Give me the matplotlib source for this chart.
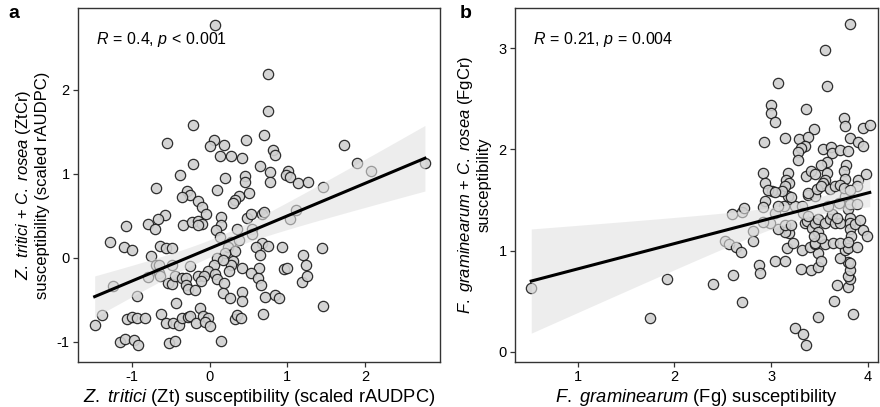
import numpy as np
import matplotlib
matplotlib.use("Agg")
import matplotlib.pyplot as plt

plt.rcParams['font.family'] = ['Liberation Sans', 'DejaVu Sans']
plt.rcParams['mathtext.fontset'] = 'custom'
plt.rcParams['mathtext.rm'] = 'Liberation Sans'
plt.rcParams['mathtext.it'] = 'Liberation Sans:italic'
plt.rcParams['axes.unicode_minus'] = False

# panel a: Zt susceptibility vs ZtCr susceptibility (scaled rAUDPC)
zt_x = [0.07, 0.75, 0.75, -0.21, -0.55, 0.06, 0.00, 0.18, 0.47, 0.70,
        0.81, 0.84, 0.13, 0.27, 0.42, -0.22, 0.65, 0.77, 1.01, 0.98,
        1.03, -0.38, 0.20, 0.45, 1.73, 1.89, 2.08, 2.77, 0.46, 0.77,
        1.14, 1.27, 1.46, -0.69, -0.29, -0.25, -0.35, 0.09, 0.38, 0.50,
        0.33, 0.30, -0.15, -0.10, -0.05, -0.58, -0.66, -0.79, -0.70, -1.08,
        -0.34, -0.23, -0.15, -0.10, -0.15, 0.15, 0.15, 0.48, 0.53, 0.67,
        0.70, 1.11, 1.03, 0.08, 0.35, 0.55, 0.55, 0.13, -1.28, -1.10,
        -1.00, -0.64, -0.56, -0.48, -0.76, 0.28, 0.38, 0.24, 0.33, 0.20,
        0.67, 0.75, 0.59, 0.65, 0.93, 1.20, 1.44, 0.09, 0.05, 0.30,
        0.27, -0.69, -0.65, -0.49, -0.25, 0.42, 0.63, 0.96, 0.99, 1.24,
        0.25, -0.02, 0.07, 0.10, 0.53, 0.62, 0.66, -0.80, -0.65, -0.64,
        -0.53, -0.49, -0.45, -0.36, -0.30, -0.31, -0.28, -0.19, -0.15, -0.07,
        -0.11, 0.18, 1.19, 1.25, -1.24, -1.38, -1.48, -0.93, -0.43, 0.17,
        0.26, 0.42, 0.42, 0.71, 0.84, 0.89, 1.46, -1.07, -1.00, -0.94,
        -0.83, -0.63, -0.56, -0.47, -0.39, -0.36, -0.28, -0.25, -0.17, -0.12,
        -0.09, -0.02, -0.06, 0.00, 0.33, 0.35, 0.40, 0.68, -1.15, -1.09,
        -0.98, -0.92, -0.52, -0.45, 0.15, 0.17]
ztcr_y = [2.77, 2.19, 1.75, 1.58, 1.37, 1.41, 1.33, 1.35, 1.40, 1.46,
          1.28, 1.23, 1.21, 1.21, 1.19, 1.12, 1.10, 1.02, 1.03, 0.99,
          0.96, 0.99, 0.95, 0.98, 1.34, 1.13, 1.03, 1.13, 0.90, 0.91,
          0.89, 0.91, 0.85, 0.83, 0.80, 0.75, 0.72, 0.81, 0.74, 0.77,
          0.69, 0.66, 0.68, 0.61, 0.52, 0.51, 0.47, 0.40, 0.35, 0.38,
          0.39, 0.43, 0.44, 0.41, 0.39, 0.49, 0.39, 0.48, 0.52, 0.52,
          0.55, 0.57, 0.46, 0.33, 0.35, 0.35, 0.29, 0.25, 0.19, 0.13,
          0.09, 0.14, 0.12, 0.12, 0.02, 0.19, 0.21, 0.13, 0.08, 0.06,
          0.18, 0.14, 0.13, 0.04, 0.13, 0.04, 0.12, 0.00, -0.08, -0.04,
          -0.08, -0.08, -0.08, -0.08, -0.09, -0.12, -0.12, -0.13, -0.12, -0.08,
          -0.16, -0.16, -0.19, -0.25, -0.18, -0.24, -0.32, -0.23, -0.18, -0.22,
          -0.30, -0.31, -0.21, -0.24, -0.24, -0.32, -0.37, -0.38, -0.22, -0.21,
          -0.27, -0.30, -0.28, -0.21, -0.33, -0.68, -0.80, -0.45, -0.54, -0.42,
          -0.48, -0.40, -0.51, -0.47, -0.44, -0.48, -0.57, -0.73, -0.70, -0.71,
          -0.72, -0.67, -0.77, -0.77, -0.80, -0.72, -0.70, -0.69, -0.77, -0.60,
          -0.69, -0.72, -0.76, -0.81, -0.73, -0.68, -0.71, -0.67, -1.00, -0.96,
          -0.98, -1.03, -1.01, -0.99, -0.99, -0.02]

# panel b: Fg susceptibility vs FgCr susceptibility
fg_x = [0.52, 1.92, 1.75, 2.40, 2.61, 2.70, 2.52, 2.56, 2.64, 2.69,
        2.60, 2.70, 2.72, 2.81, 2.81, 2.88, 2.89, 3.04, 3.14, 3.31,
        3.41, 3.49, 3.25, 3.33, 3.36, 3.48, 3.65, 3.85, 3.68, 3.79,
        3.82, 3.80, 3.82, 3.79, 3.82, 3.71, 3.76, 3.80, 3.89, 3.49,
        3.52, 3.32, 3.40, 3.45, 3.16, 3.23, 3.18, 3.14, 3.07, 3.14,
        3.21, 2.99, 2.94, 2.92, 3.01, 3.04, 3.13, 3.25, 3.17, 3.21,
        3.35, 3.37, 3.42, 3.45, 3.32, 3.33, 3.38, 3.38, 3.45, 3.49,
        3.56, 3.61, 3.66, 3.71, 3.45, 3.56, 3.64, 3.71, 3.49, 3.52,
        3.44, 3.63, 3.68, 3.59, 3.80, 3.82, 3.82, 3.82, 3.83, 3.80,
        3.87, 3.92, 3.95, 3.99, 3.76, 3.82, 3.89, 3.70, 3.07, 2.92,
        3.82, 3.56, 3.07, 3.58, 3.00, 3.00, 3.04, 3.36, 3.75, 3.76,
        3.95, 4.02, 3.44, 2.93, 3.14, 3.29, 3.38, 3.35, 3.31, 3.28,
        3.28, 3.82, 3.90, 3.95, 3.54, 3.62, 3.63, 3.71, 3.79, 3.58,
        3.52, 3.77, 2.92, 2.94, 3.17, 3.15, 3.18, 3.36, 3.41, 3.45,
        3.58, 3.56, 3.54, 3.75, 3.76, 3.90, 3.98, 3.89, 3.14, 3.11,
        2.97, 3.04, 3.38, 3.47, 3.52, 3.61, 3.66, 3.71, 3.75, 3.82]
fgcr_y = [0.63, 0.72, 0.34, 0.67, 0.76, 0.49, 1.10, 1.07, 1.04, 0.99,
          1.36, 1.38, 1.42, 1.19, 1.10, 0.86, 0.78, 0.90, 0.90, 0.82,
          0.81, 0.84, 0.24, 0.18, 0.07, 0.35, 0.50, 0.37, 0.66, 0.64,
          0.72, 0.75, 0.81, 0.89, 0.88, 0.93, 1.01, 1.03, 1.04, 0.98,
          0.90, 1.01, 1.04, 1.07, 1.03, 1.08, 1.17, 1.18, 1.21, 1.25,
          1.25, 1.27, 1.49, 1.43, 1.59, 1.37, 1.44, 1.44, 1.54, 1.53,
          1.27, 1.29, 1.22, 1.27, 1.44, 1.37, 1.34, 1.55, 1.54, 1.31,
          1.27, 1.31, 1.27, 1.27, 1.08, 1.07, 1.08, 1.08, 1.18, 1.13,
          1.14, 1.36, 1.32, 1.44, 1.41, 1.32, 1.27, 1.21, 1.14, 1.09,
          1.26, 1.30, 1.20, 1.14, 1.54, 1.46, 1.46, 1.47, 1.44, 1.28,
          3.24, 2.98, 2.66, 2.63, 2.44, 2.36, 2.27, 2.40, 2.31, 2.23,
          2.21, 2.24, 2.20, 2.07, 2.11, 2.10, 2.12, 2.03, 2.01, 1.97,
          1.90, 2.11, 2.07, 2.03, 2.00, 2.02, 1.96, 1.99, 1.98, 1.88,
          1.85, 1.85, 1.77, 1.67, 1.77, 1.70, 1.67, 1.74, 1.79, 1.76,
          1.77, 1.70, 1.67, 1.79, 1.71, 1.70, 1.76, 1.64, 1.64, 1.59,
          1.60, 1.58, 1.57, 1.61, 1.64, 1.61, 1.64, 1.65, 1.62, 1.60]

stats_a = r'$\mathit{R}$$\,=\,$0.4, $\mathit{p}$$\,<\,$0.001'
stats_b = r'$\mathit{R}$$\,=\,$0.21, $\mathit{p}$$\,=\,$0.004'


def fit_band(x, y, t=1.975, n_grid=80):
    """linear fit with 95% confidence band of the mean"""
    x = np.asarray(x)
    y = np.asarray(y)
    b, a = np.polyfit(x, y, 1)
    xs = np.linspace(x.min(), x.max(), n_grid)
    resid = y - (a + b * x)
    n = len(x)
    s = np.sqrt(np.sum(resid ** 2) / (n - 2))
    se = s * np.sqrt(1.0 / n + (xs - x.mean()) ** 2 / np.sum((x - x.mean()) ** 2))
    ys = a + b * xs
    return xs, ys, ys - t * se, ys + t * se


def draw_panel(ax, x, y, stats):
    ax.scatter(x, y, s=55, facecolor='#d0d0d0', edgecolor='#1a1a1a',
               linewidth=0.9, alpha=0.9, zorder=2)
    xs, ys, lo, hi = fit_band(x, y)
    ax.fill_between(xs, lo, hi, color='#e2e2e2', alpha=0.6, lw=0, zorder=3)
    ax.plot(xs, ys, color='black', lw=2.2, zorder=4)
    ax.text(0.05, 0.91, stats, transform=ax.transAxes, fontsize=11.5,
            ha='left', va='center')
    for sp in ax.spines.values():
        sp.set_color('#333333')
        sp.set_linewidth(1.0)
    ax.tick_params(direction='out', length=3.5, width=0.9, color='#333333',
                   labelsize=10.5, pad=2.5)


fig = plt.figure(figsize=(8.8, 4.07), dpi=100)
ax1 = fig.add_axes([0.0886, 0.1106, 0.4114, 0.8698])
ax2 = fig.add_axes([0.5852, 0.1106, 0.4125, 0.8698])

draw_panel(ax1, zt_x, ztcr_y, stats_a)
ax1.set_xlim(-1.695, 2.964)
ax1.set_ylim(-1.238, 2.976)
ax1.set_xticks([-1, 0, 1, 2])
ax1.set_yticks([-1, 0, 1, 2])
ax1.set_xlabel(r'$\mathit{Z.\ tritici}$ (Zt) susceptibility (scaled rAUDPC)',
               fontsize=13.2, labelpad=2)
ax1.set_ylabel(r'$\mathit{Z.\ tritici}$ + $\mathit{C.\ rosea}$ (ZtCr)' + '\n'
               + 'susceptibility (scaled rAUDPC)', fontsize=12, labelpad=5,
               linespacing=1.15)

draw_panel(ax2, fg_x, fgcr_y, stats_b)
ax2.set_xlim(0.352, 4.105)
ax2.set_ylim(-0.099, 3.396)
ax2.set_xticks([1, 2, 3, 4])
ax2.set_yticks([0, 1, 2, 3])
ax2.set_xlabel(r'$\mathit{F.\ graminearum}$ (Fg) susceptibility',
               fontsize=13.2, labelpad=2)
ax2.set_ylabel(r'$\mathit{F.\ graminearum}$ + $\mathit{C.\ rosea}$ (FgCr)' + '\n'
               + 'susceptibility', fontsize=12, labelpad=5, linespacing=1.15)

fig.text(0.009, 0.955, 'a', fontsize=14, fontweight='bold')
fig.text(0.522, 0.955, 'b', fontsize=14, fontweight='bold')

fig.savefig('out.png', dpi=100)
